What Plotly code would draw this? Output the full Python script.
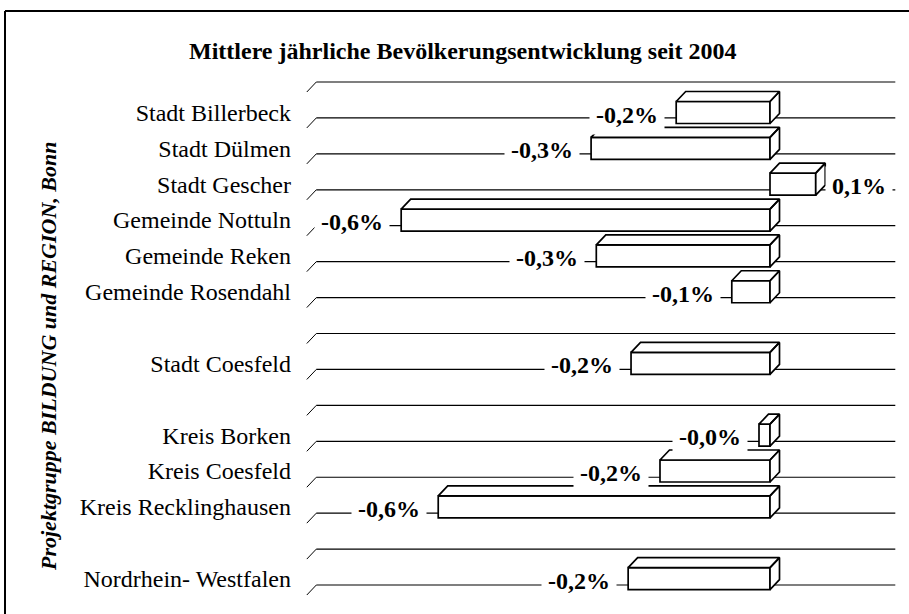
import plotly.graph_objects as go

# ---------------- data ----------------
categories = ["Stadt Billerbeck", "Stadt Dülmen", "Stadt Gescher", "Gemeinde Nottuln",
              "Gemeinde Reken", "Gemeinde Rosendahl", None, "Stadt Coesfeld", None,
              "Kreis Borken", "Kreis Coesfeld", "Kreis Recklinghausen", None,
              "Nordrhein- Westfalen"]
values = [-0.162, -0.309, 0.079, -0.637, -0.300, -0.066, None, -0.240, None,
          -0.019, -0.190, -0.573, None, -0.245]
title_text = "Mittlere jährliche Bevölkerungsentwicklung seit 2004"
side_text = "Projektgruppe BILDUNG und REGION, Bonn"

# ---------------- geometry / style ----------------
W, H = 909, 614
L, R, T, B = 298, 905, 70, 605           # plot area in px
X0PX, XS = 770, 579.0                     # zero position, px per unit
Y0PX, YS = 112.5, 35.85                   # first slot centre, px per slot
xr = [(L - X0PX) / XS, (R - X0PX) / XS]
yr = [(B - Y0PX) / YS, (T - Y0PX) / YS]   # reversed
DX = 9.5 / XS                              # depth offset (data units)
DY = -10.0 / YS
BW = 0.614                                 # bar thickness (slots)
SERIF = "Liberation Serif, Times New Roman, Times, serif"

def px2paper(px, py):
    return (px - L) / (R - L), 1 - (py - T) / (B - T)

idx = [i for i, v in enumerate(values) if v is not None]
vals = [values[i] for i in idx]
names = [categories[i] for i in idx]

fig = go.Figure()

# front faces
fig.add_trace(go.Bar(
    x=vals, y=idx, orientation="h", width=BW,
    marker=dict(color="white", line=dict(color="black", width=1.7)),
    hoverinfo="skip", showlegend=False))

# top and side faces
fx, fy = [], []
for i, v in zip(idx, vals):
    lo, hi = min(0, v), max(0, v)
    yt, yb = i - BW / 2, i + BW / 2
    fx += [lo, lo + DX, hi + DX, hi, lo, None]
    fy += [yt, yt + DY, yt + DY, yt, yt, None]
    fx += [hi, hi + DX, hi + DX, hi, hi, None]
    fy += [yt, yt + DY, yb + DY, yb, yt, None]
fig.add_trace(go.Scatter(
    x=fx, y=fy, mode="lines", fill="toself", fillcolor="white",
    line=dict(color="black", width=1.7), hoverinfo="skip", showlegend=False))

# gridlines on back wall with floor diagonals
shapes = []
xl = -0.80
xrgt = 0.20 + DX
for k in range(len(categories) + 1):
    yb_back = (82 + 35.93 * k - Y0PX) / YS
    yb_front = yb_back - DY
    shapes.append(dict(type="line", xref="x", yref="y", layer="below",
                       x0=xl + DX, y0=yb_back, x1=xrgt, y1=yb_back,
                       line=dict(color="black", width=1.2)))
    shapes.append(dict(type="line", xref="x", yref="y", layer="below",
                       x0=xl, y0=yb_front, x1=xl + DX, y1=yb_back,
                       line=dict(color="black", width=1)))

# outer frame (top and left edges)
x1p, y1p = px2paper(5, 11)
x2p, _ = px2paper(912, 11)
_, y2p = px2paper(5, 620)
shapes.append(dict(type="line", xref="paper", yref="paper", x0=x1p, y0=y1p, x1=x2p, y1=y1p,
                   line=dict(color="black", width=2)))
shapes.append(dict(type="line", xref="paper", yref="paper", x0=x1p, y0=y1p, x1=x1p, y1=y2p,
                   line=dict(color="black", width=2)))

# value labels
annotations = []
for i, v in zip(idx, vals):
    txt = f"{v:.1f}".replace(".", ",") + "%"
    if v < 0:
        annotations.append(dict(x=v, y=i, xref="x", yref="y", text=txt, showarrow=False,
                                xanchor="right", yanchor="middle", xshift=-11, yshift=-2,
                                bgcolor="white", borderpad=6,
                                font=dict(family=SERIF, size=24, color="black", weight="bold")))
    else:
        annotations.append(dict(x=v + DX, y=i, xref="x", yref="y", text=txt, showarrow=False,
                                xanchor="left", yanchor="middle", xshift=0, yshift=-2,
                                bgcolor="white", borderpad=6,
                                font=dict(family=SERIF, size=24, color="black", weight="bold")))

# title
tx, ty = px2paper(463, 51)
annotations.append(dict(x=tx, y=ty, xref="paper", yref="paper", text=title_text,
                        showarrow=False, xanchor="center", yanchor="middle",
                        font=dict(family=SERIF, size=24, color="black", weight="bold")))
# rotated source text
sx, sy = px2paper(48, 357)
annotations.append(dict(x=sx, y=sy, xref="paper", yref="paper", text=side_text,
                        showarrow=False, textangle=-90, xanchor="center", yanchor="middle",
                        font=dict(family=SERIF, size=22, color="black", weight="bold",
                                  style="italic")))

fig.update_layout(
    width=W, height=H, margin=dict(l=L, r=W - R, t=T, b=H - B, pad=0),
    paper_bgcolor="white", plot_bgcolor="white", showlegend=False,
    shapes=shapes, annotations=annotations, bargap=0,
    xaxis=dict(range=xr, showgrid=False, zeroline=False, showticklabels=False,
               ticks="", showline=False, fixedrange=True),
    yaxis=dict(range=yr, tickmode="array", tickvals=idx, ticktext=names,
               showgrid=False, zeroline=False, showline=False, ticks="",
               tickfont=dict(family=SERIF, size=24, color="black"),
               ticklabelstandoff=6, fixedrange=True),
)

fig.write_html("out.html", config={"displayModeBar": False, "staticPlot": True},
               post_script="document.body.style.margin='0';document.body.style.overflow='hidden';")
